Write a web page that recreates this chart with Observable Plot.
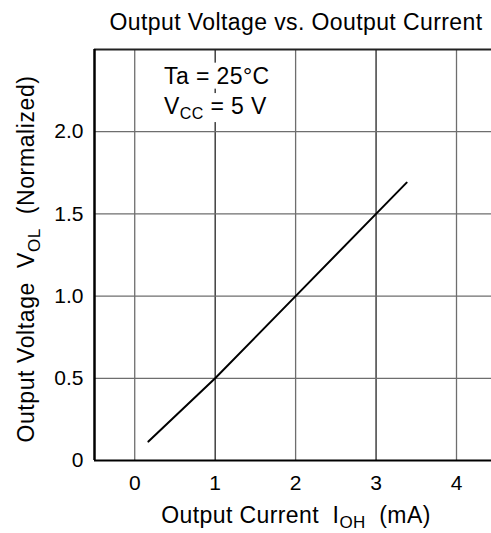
<!DOCTYPE html>
<html><head><meta charset="utf-8">
<script src="https://cdn.jsdelivr.net/npm/d3@7"></script>
<script src="https://cdn.jsdelivr.net/npm/@observablehq/plot@0.6"></script>
<style>body{margin:0;background:#fff} svg{display:block}</style>
</head><body><div id="chart"></div>
<script>
// ---- data ----
const currentMA   = [0.17, 1, 2, 3, 3.38];
const voltageNorm = [0.115, 0.5, 1.0, 1.5, 1.69];
const xTicks = [0, 1, 2, 3, 4];
const xTickLabels = ["0", "1", "2", "3", "4"];
const yTicks = [0, 0.5, 1, 1.5, 2];
const yTickLabels = ["0", "0.5", "1.0", "1.5", "2.0"];
const darkGridX = [1, 3];
const greyGridX = [0, 2, 4];
const gridY = [0.5, 1, 1.5, 2];
const titleText = "Output Voltage vs. Ooutput Current";
const xLabelParts = [["Output Current  I", false], ["OH", true], ["  (mA)", false]];
const yLabelParts = [["Output Voltage  V", false], ["OL", true], ["  (Normalized)", false]];
const noteX = [0.364, 0.364];
const noteY = [2.337, 2.152];
const noteParts = [
  [["Ta = 25°C", false]],
  [["V", false], ["CC", true], [" = 5 V", false]]
];

const FONT = "'Liberation Sans', Arial, Helvetica, sans-serif";
const xDomain = [-0.5, 4.435];
const yDomain = [0, 2.5];

const line = currentMA.map((x, i) => ({x, y: voltageNorm[i]}));
const notes = noteParts.map((p, i) => ({x: noteX[i], y: noteY[i], t: p.map(d => d[0]).join("")}));

const plot = Plot.plot({
  width: 491, height: 533,
  marginTop: 49, marginBottom: 73, marginLeft: 94, marginRight: 0,
  style: {fontFamily: FONT, fontSize: "21px", background: "#fff", color: "#000"},
  x: {domain: xDomain, ticks: xTicks, tickSize: 0, tickPadding: 15, label: null,
      tickFormat: d => xTickLabels[xTicks.indexOf(d)]},
  y: {domain: yDomain, ticks: yTicks, tickSize: 0, tickPadding: 11, label: null,
      tickFormat: d => yTickLabels[yTicks.indexOf(d)]},
  marks: [
    Plot.ruleX(greyGridX, {stroke: "#6e6e6e", strokeWidth: 1.3}),
    Plot.ruleX(darkGridX, {stroke: "#111", strokeWidth: 1.2}),
    Plot.ruleY(gridY, {stroke: "#6e6e6e", strokeWidth: 1.3}),
    Plot.ruleY([yDomain[1]], {stroke: "#222", strokeWidth: 2}),
    Plot.ruleX([xDomain[0]], {stroke: "#000", strokeWidth: 2.5}),
    Plot.ruleY([yDomain[0]], {stroke: "#000", strokeWidth: 2}),
    Plot.line(line, {x: "x", y: "y", stroke: "#000", strokeWidth: 2}),
    Plot.text(notes, {x: "x", y: "y", text: "t", textAnchor: "start", fontSize: 23, fill: "#000"})
  ]
});
document.getElementById("chart").appendChild(plot);

const svg = d3.select(plot);
function fill(sel, parts, subSize, subDy) {
  sel.text(null);
  let down = false;
  parts.forEach(([t, sub]) => {
    const ts = sel.append("tspan").text(t);
    if (sub) { ts.attr("font-size", subSize).attr("dy", subDy); down = true; }
    else if (down) { ts.attr("dy", -subDy); down = false; }
  });
}
// annotation with white background boxes
svg.selectAll('g[aria-label="text"] text').each(function(d, i) {
  const sel = d3.select(this);
  sel.style("white-space", "pre").style("letter-spacing", "0.4px");
  fill(sel, noteParts[i], 16, 5);
  const b = this.getBBox();
  const g = this.parentNode;
  const r = d3.select(g).insert("rect", "text")
    .attr("x", b.x - 1).attr("y", b.y).attr("width", b.width + 2).attr("height", b.height)
    .attr("fill", "#fff");
  const tr = this.getAttribute("transform");
  if (tr) r.attr("transform", tr);
  if (!tr && this.getAttribute("x") == null) {}
});
// title
svg.append("text").attr("x", 296).attr("y", 30).attr("text-anchor", "middle")
  .attr("font-size", 23).style("letter-spacing", "0.4px").attr("fill", "#000").text(titleText);
// x label
fill(svg.append("text").attr("x", 296).attr("y", 523).attr("text-anchor", "middle")
  .attr("font-size", 23).style("white-space", "pre").style("letter-spacing", "0.4px").attr("fill", "#000"),
  xLabelParts, 17, 5);
// y label
fill(svg.append("text").attr("transform", "translate(34,259) rotate(-90)").attr("text-anchor", "middle")
  .attr("font-size", 23).style("white-space", "pre").style("letter-spacing", "0.6px").attr("fill", "#000"),
  yLabelParts, 17, 6);
</script>
</body></html>
